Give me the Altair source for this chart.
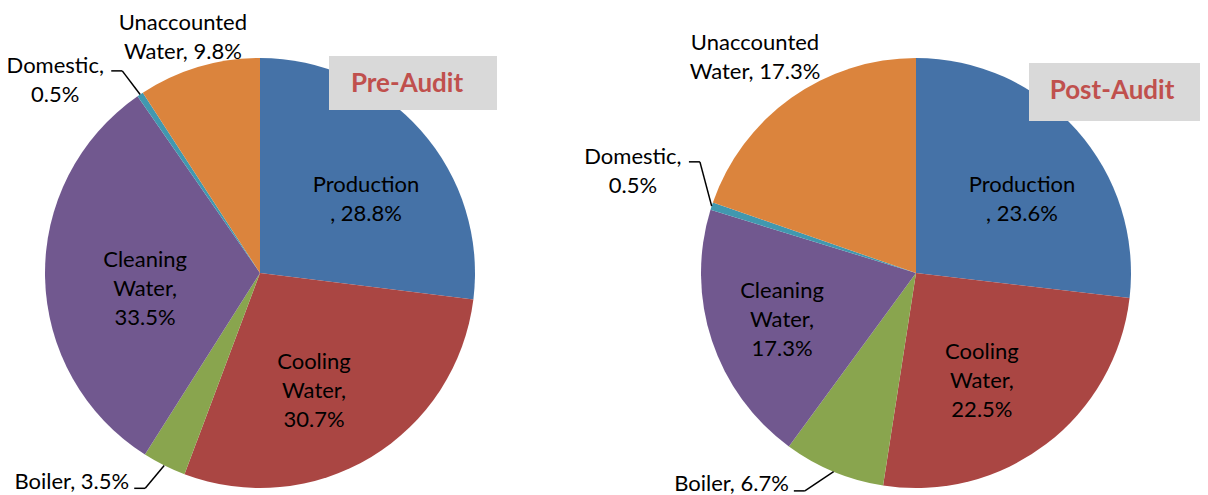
import math
import altair as alt
import pandas as pd

# ---------------- data ----------------
categories = ["Production", "Cooling Water", "Boiler", "Cleaning Water", "Domestic", "Unaccounted Water"]
pre_values = [28.8, 30.7, 3.5, 33.5, 0.5, 9.8]
post_values = [23.6, 22.5, 6.7, 17.3, 0.5, 17.3]
pre_labels = ["Production\n, 28.8%", "Cooling\nWater,\n30.7%", "Boiler, 3.5%",
              "Cleaning\nWater,\n33.5%", "Domestic,\n0.5%", "Unaccounted\nWater, 9.8%"]
post_labels = ["Production\n, 23.6%", "Cooling\nWater,\n22.5%", "Boiler, 6.7%",
               "Cleaning\nWater,\n17.3%", "Domestic,\n0.5%", "Unaccounted\nWater, 17.3%"]
pie_titles = ["Pre-Audit", "Post-Audit"]
colors = ["#4572A7", "#AA4643", "#89A54E", "#71588F", "#4198AF", "#DB843D"]

# ---------------- layout ----------------
W, H = 1192, 487
R = 215
FONT = "Lato"
LH = 29
centers = {"Pre-Audit": (252, 265), "Post-Audit": (908, 265)}
# (kind, angle nudge from slice mid-angle, radius)
label_layout = {
    "Pre-Audit": {
        "Production": ("inside", 6.9, 128.7),
        "Cooling Water": ("inside", 6.6, 129.8),
        "Boiler": ("leader", 1.6, 244.0),
        "Cleaning Water": ("inside", -6.7, 116.0),
        "Domestic": ("leader", -0.4, 244.6),
        "Unaccounted Water": ("inside", -1.6, 248.0),
    },
    "Post-Audit": {
        "Production": ("inside", 7.1, 128.7),
        "Cooling Water": ("inside", 5.9, 126.6),
        "Boiler": ("leader", 4.5, 244.6),
        "Cleaning Water": ("inside", -1.0, 142.0),
        "Domestic": ("leader", 9.1, 243.0),
        "Unaccounted Water": ("inside", -1.4, 268.6),
    },
}
title_boxes = {
    "Pre-Audit": dict(x=321, x2=489, y=48, y2=102, tx=399, ty=76),
    "Post-Audit": dict(x=1021, x2=1200, y=55, y2=113, tx=1104, ty=83),
}
HLEN = 11

xs = alt.Scale(domain=[0, W], range=[0, W], nice=False, zero=False)
ys = alt.Scale(domain=[0, H], range=[0, H], nice=False, zero=False)


def polar(cx, cy, ang, r):
    a = math.radians(ang)
    return cx + r * math.sin(a), cy - r * math.cos(a)


def block_top(y, lab):
    # Vega draws the first line at y; shift so the whole block is centred on y
    return y - (lab.count("\n")) * LH / 2


arc_layers = []
center_rows, right_rows, seg_rows, box_rows = [], [], [], []
for title, values, labels in [("Pre-Audit", pre_values, pre_labels),
                              ("Post-Audit", post_values, post_labels)]:
    cx, cy = centers[title]
    df = pd.DataFrame({"category": categories, "value": values, "order": list(range(len(values)))})
    arc_layers.append(
        alt.Chart(df).mark_arc(outerRadius=R).encode(
            theta=alt.Theta("value:Q", stack=True),
            color=alt.Color("category:N", scale=alt.Scale(domain=categories, range=colors), legend=None),
            order=alt.Order("order:Q"),
            x=alt.value(cx),
            y=alt.value(cy),
        )
    )
    total = sum(values)
    cum = 0.0
    for cat, v, lab in zip(categories, values, labels):
        mid = (cum + v / 2) / total * 360
        cum += v
        kind, nudge, r = label_layout[title][cat]
        if kind == "inside":
            x, y = polar(cx, cy, mid + nudge, r)
            center_rows.append({"x": x, "y": block_top(y, lab), "text": lab})
        else:
            ex, ey = polar(cx, cy, mid, R)
            bx, by = polar(cx, cy, mid + nudge, r)
            endx = bx - HLEN
            seg_rows.append({"x": ex, "y": ey, "x2": bx, "y2": by})
            seg_rows.append({"x": bx, "y": by, "x2": endx, "y2": by})
            if "\n" in lab:
                center_rows.append({"x": endx - 56, "y": block_top(by + 10, lab), "text": lab})
            else:
                right_rows.append({"x": endx - 5, "y": by - 6.5, "text": lab})
    b = title_boxes[title]
    box_rows.append({"x": b["x"], "x2": b["x2"], "y": b["y"], "y2": b["y2"],
                     "tx": b["tx"], "ty": b["ty"], "title": title})

segs = alt.Chart(pd.DataFrame(seg_rows)).mark_rule(color="black", strokeWidth=1.5).encode(
    x=alt.X("x:Q", scale=xs, axis=None), y=alt.Y("y:Q", scale=ys, axis=None),
    x2="x2:Q", y2="y2:Q",
)
center_text = alt.Chart(pd.DataFrame(center_rows)).mark_text(
    font=FONT, fontSize=22, lineBreak="\n", lineHeight=LH, color="black",
    align="center", baseline="middle",
).encode(x=alt.X("x:Q", scale=xs, axis=None), y=alt.Y("y:Q", scale=ys, axis=None), text="text:N")
right_text = alt.Chart(pd.DataFrame(right_rows)).mark_text(
    font=FONT, fontSize=22, color="black", align="right", baseline="middle",
).encode(x=alt.X("x:Q", scale=xs, axis=None), y=alt.Y("y:Q", scale=ys, axis=None), text="text:N")

boxes_df = pd.DataFrame(box_rows)
boxes = alt.Chart(boxes_df).mark_rect(color="#D9D9D9").encode(
    x=alt.X("x:Q", scale=xs, axis=None), x2="x2:Q",
    y=alt.Y("y:Q", scale=ys, axis=None), y2="y2:Q",
)
titles = alt.Chart(boxes_df).mark_text(
    font=FONT, fontSize=26, fontWeight="bold", color="#C0504D", align="center", baseline="middle",
).encode(x=alt.X("tx:Q", scale=xs, axis=None), y=alt.Y("ty:Q", scale=ys, axis=None), text="title:N")

chart = alt.layer(*arc_layers, segs, center_text, right_text, boxes, titles).resolve_scale(
    theta="independent"
).properties(
    width=W, height=H, padding=0, autosize=alt.AutoSizeParams(type="none"),
    background="white",
).configure_view(stroke=None)

chart.save("out.html", embed_options={"renderer": "svg", "actions": False})
